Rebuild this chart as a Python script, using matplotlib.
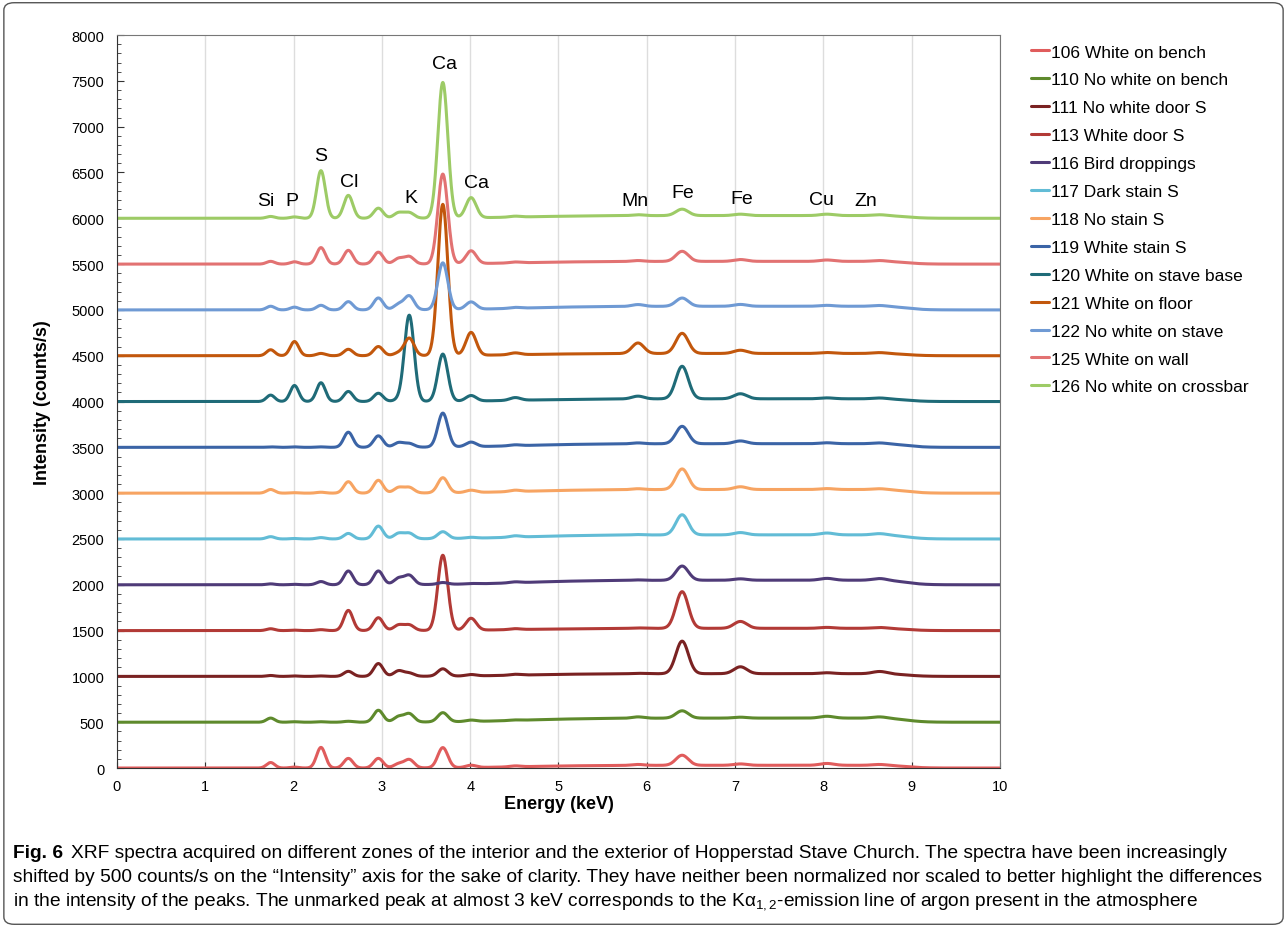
import matplotlib
matplotlib.use("Agg")
import matplotlib.pyplot as plt
from matplotlib.patches import FancyBboxPatch
from matplotlib.ticker import MultipleLocator
import numpy as np

plt.rcParams['font.family'] = ['Liberation Sans', 'DejaVu Sans']

# emission lines used to describe every spectrum (keV)
line_names = ['Si', 'P', 'S', 'Cl', 'Ar', 'Ar Kb', 'K', 'Ca', 'Ca Kb', 'Ti', 'Mn', 'Fe', 'Fe Kb', 'Cu', 'Zn']
line_energy = [1.74, 2.01, 2.31, 2.62, 2.96, 3.19, 3.31, 3.69, 4.01, 4.51, 5.90, 6.40, 7.06, 8.04, 8.64]

# sample labels and colours, plotted bottom to top, shifted by 500 counts/s each
labels = ['106 White on bench', '110 No white on bench', '111 No white door S', '113 White door S',
          '116 Bird droppings', '117 Dark stain S', '118 No stain S', '119 White stain S',
          '120 White on stave base', '121 White on floor', '122 No white on stave',
          '125 White on wall', '126 No white on crossbar']
colors = ['#e05c5c', '#5e8a2c', '#7a2222', '#b23a36', '#4f3b78', '#62bcd6', '#f7a462',
          '#3b64a6', '#1f6b78', '#c2570c', '#6f9ad4', '#e27272', '#9dcb66']
shift = 500

# peak heights above baseline (counts/s), same order as line_energy
h106 = [60, 10, 225, 105, 105, 45, 90, 220, 25, 10, 10, 110, 15, 20, 10]
h110 = [45, 5, 5, 10, 130, 60, 90, 100, 15, 5, 15, 80, 10, 20, 15]
h111 = [10, 5, 5, 55, 140, 60, 35, 80, 15, 10, 5, 355, 75, 10, 25]
h113 = [20, 5, 10, 220, 140, 60, 60, 820, 130, 10, 5, 400, 75, 10, 10]
h116 = [10, 5, 35, 150, 150, 70, 100, 20, 5, 10, 5, 155, 15, 20, 20]
h117 = [25, 5, 15, 60, 140, 60, 60, 75, 10, 15, 5, 220, 25, 20, 15]
h118 = [40, 5, 10, 125, 140, 60, 60, 165, 25, 15, 10, 225, 30, 10, 10]
h119 = [5, 5, 5, 165, 125, 50, 40, 370, 50, 10, 10, 190, 30, 10, 10]
h120 = [70, 175, 205, 110, 90, 20, 940, 515, 60, 30, 30, 355, 55, 10, 10]
h121 = [65, 155, 25, 70, 100, 30, 190, 1650, 250, 20, 115, 220, 35, 10, 10]
h122 = [40, 30, 50, 90, 130, 60, 150, 510, 80, 10, 20, 90, 20, 10, 10]
h125 = [30, 25, 180, 150, 130, 60, 80, 980, 140, 10, 10, 110, 20, 15, 10]
h126 = [20, 15, 520, 250, 110, 60, 60, 1480, 220, 10, 10, 70, 15, 15, 10]
heights = [h106, h110, h111, h113, h116, h117, h118, h119, h120, h121, h122, h125, h126]

# height of the broad scatter continuum between ~5 and 9 keV
hump = [30, 45, 30, 25, 50, 45, 40, 40, 30, 25, 40, 30, 30]

# element annotations (label, energy, intensity at label centre)
ann_text = ['Si', 'P', 'S', 'Cl', 'K', 'Ca', 'Ca', 'Mn', 'Fe', 'Fe', 'Cu', 'Zn']
ann_x = [1.68, 1.98, 2.31, 2.63, 3.33, 3.71, 4.07, 5.87, 6.41, 7.07, 7.98, 8.48]
ann_y = [6195, 6195, 6690, 6400, 6230, 7690, 6390, 6195, 6280, 6220, 6210, 6195]


def spectrum(e, peaks, bg):
    y = np.zeros_like(e)
    for e0, h in zip(line_energy, peaks):
        sig = 0.038 + 0.005 * e0
        y += h * np.exp(-0.5 * ((e - e0) / sig) ** 2)
    y += bg / (1 + np.exp(-(e - 4.6) / 0.4)) / (1 + np.exp(-(8.95 - e) / 0.1))
    return y


fig = plt.figure(figsize=(12.87, 9.29), dpi=100)
ax = fig.add_axes([0.0909, 0.1722, 0.6861, 0.789])

energy = np.linspace(0, 10, 2001)
for i, (lab, col, pk, bg) in enumerate(zip(labels, colors, heights, hump)):
    ax.plot(energy, spectrum(energy, pk, bg) + i * shift, color=col, lw=2.2, label=lab,
            solid_capstyle='round')

for t, x, y in zip(ann_text, ann_x, ann_y):
    ax.text(x, y, t, ha='center', va='center', fontsize=14)

ax.set_xlim(0, 10)
ax.set_ylim(0, 8000)
ax.xaxis.set_major_locator(MultipleLocator(1))
ax.yaxis.set_major_locator(MultipleLocator(500))
ax.yaxis.set_minor_locator(MultipleLocator(100))
ax.tick_params(axis='both', which='both', direction='in', labelsize=10.5, color='#333333')
ax.tick_params(axis='y', which='major', length=5, pad=9)
ax.tick_params(axis='y', which='minor', length=3)
ax.tick_params(axis='x', which='major', length=4, pad=8)
ax.grid(axis='x', color='#dddddd', lw=1)
ax.set_axisbelow(True)
for s in ['left', 'bottom']:
    ax.spines[s].set_color('#333333')
for s in ['top', 'right']:
    ax.spines[s].set_color('#777777')

ax.set_xlabel('Energy (keV)', fontsize=13, fontweight='bold', labelpad=1)
ax.set_ylabel('Intensity (counts/s)', fontsize=13, fontweight='bold', labelpad=15)

fig.legend(loc='upper left', bbox_to_anchor=(0.789, 0.968), frameon=False, fontsize=12.5,
           handlelength=1.05, handletextpad=0.12, labelspacing=0.735)

# caption
cap_font = ['Liberation Sans', 'DejaVu Sans']
cap_size = 13.75
plt.rcParams['mathtext.fontset'] = 'custom'
plt.rcParams['mathtext.rm'] = 'Liberation Sans'
plt.rcParams['mathtext.it'] = 'Liberation Sans'
fig_lab = fig.text(0.0101, 1 - 858 / 929, 'Fig. 6', fontsize=cap_size, fontweight='bold',
                   family=cap_font, va='baseline')
ax.annotate('XRF spectra acquired on different zones of the interior and the exterior of Hopperstad Stave Church. '
            'The spectra have been increasingly', xy=(1, 0), xycoords=fig_lab,
            xytext=(6, 0), textcoords='offset points', fontsize=cap_size, family=cap_font,
            va='bottom', annotation_clip=False)
fig.text(0.0101, 1 - 882 / 929, 'shifted by 500 counts/s on the \u201cIntensity\u201d axis for the sake of clarity. '
         'They have neither been normalized nor scaled to better highlight the differences',
         fontsize=cap_size, family=cap_font, va='baseline')
fig.text(0.0101, 1 - 906 / 929, 'in the intensity of the peaks. The unmarked peak at almost 3 keV corresponds to the '
         r'K$\alpha_{1,2}$-emission line of argon present in the atmosphere',
         fontsize=cap_size, family=cap_font, va='baseline')

frame = FancyBboxPatch((0.003, 0.004), 0.994, 0.992, boxstyle='round,pad=0,rounding_size=0.008',
                       transform=fig.transFigure, fill=False, edgecolor='#555555', lw=1.0)
fig.patches.append(frame)

fig.savefig('out.png', dpi=100)
